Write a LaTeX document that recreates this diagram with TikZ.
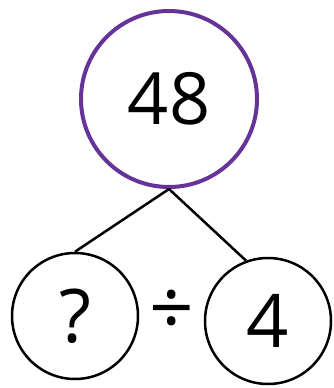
\documentclass[tikz,border=0pt]{standalone}
\usepackage{fontspec}
\setmainfont{Open Sans}
\usepackage{xcolor}
\usetikzlibrary{positioning}
\definecolor{bondpurple}{RGB}{102,51,153}

\begin{document}
\begin{tikzpicture}[
    x=1pt, y=-1pt,
    whole/.style={circle, draw=bondpurple, line width=4pt, minimum size=176pt, inner sep=0pt, font=\fontsize{72}{72}\selectfont},
    part/.style={circle, draw=black, line width=2.5pt, minimum size=126pt, inner sep=0pt, font=\fontsize{74}{74}\selectfont},
    bond/.style={line width=2.5pt, color=black},
]
\useasboundingbox (0,0) rectangle (333,388);
\node[whole] (total) at (169,99) {48};
\node[part] (unknown) at (75,316) {?};
\node[part] (divisor) at (268,321) {4};
\node[font=\fontsize{78}{78}\selectfont] (divsign) at (172,313) {÷};
\draw[bond] (total.south) -- (unknown.north);
\draw[bond] (total.south) -- (divisor.110);
\end{tikzpicture}
\end{document}
